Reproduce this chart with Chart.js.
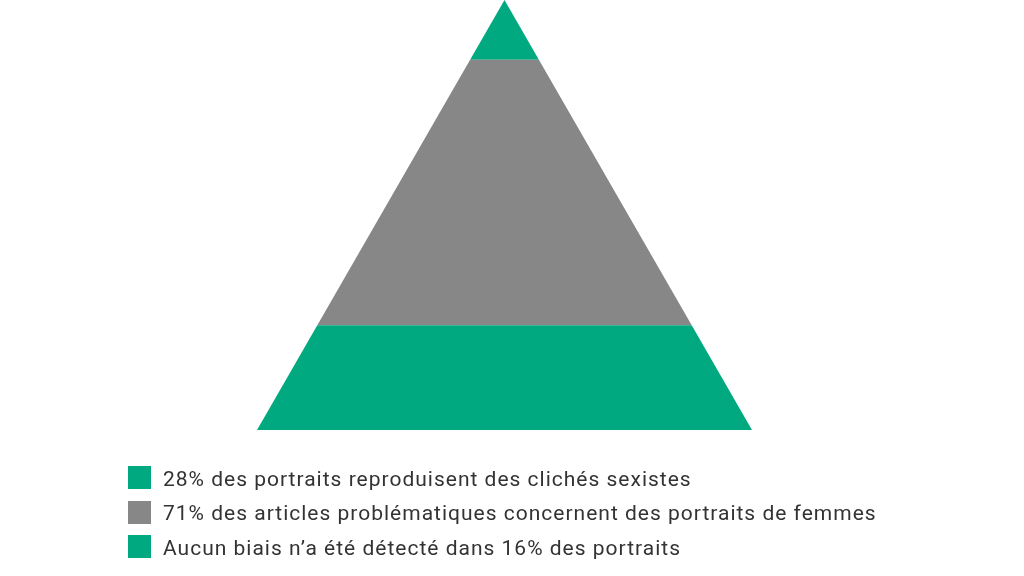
<!DOCTYPE html>
<html>
<head>
<meta charset="utf-8">
<script src="https://cdn.jsdelivr.net/npm/chart.js@4"></script>
<style>
  html, body { margin: 0; padding: 0; background: #fff; }
  #wrap { position: relative; width: 1024px; height: 576px; }
  #chart { position: absolute; left: 0; top: 0; }
  #legend { position: absolute; left: 128px; top: 466px; font-family: Roboto, sans-serif; font-size: 21px; letter-spacing: 1px; color: #333; }
  .item { display: flex; align-items: center; height: 23px; margin-bottom: 11.5px; white-space: nowrap; }
  .box { width: 23px; height: 23px; margin-right: 12px; flex: none; }
  .item span:last-child { position: relative; top: 1px; }
</style>
</head>
<body>
<div id="wrap">
  <canvas id="chart" width="1024" height="576"></canvas>
  <div id="legend"></div>
</div>
<script>
// bottom -> top of the pyramid
const labels = [
  '28% des portraits reproduisent des clichés sexistes',
  '71% des articles problématiques concernent des portraits de femmes',
  'Aucun biais n’a été détecté dans 16% des portraits'
];
const values = [28, 71, 16];
const colors = ['#00a97f', '#878787', '#00a97f'];

const total = values.reduce((a, b) => a + b, 0);

// clip the stacked bar into a triangle
const pyramidClip = {
  id: 'pyramidClip',
  beforeDatasetsDraw(chart) {
    const first = chart.getDatasetMeta(0).data[0];
    const last = chart.getDatasetMeta(values.length - 1).data[0];
    const half = first.width / 2;
    const baseY = first.base;
    const ctx = chart.ctx;
    ctx.save();
    ctx.beginPath();
    ctx.moveTo(first.x, last.y);
    ctx.lineTo(first.x + half, baseY);
    ctx.lineTo(first.x - half, baseY);
    ctx.closePath();
    ctx.clip();
  },
  afterDatasetsDraw(chart) {
    chart.ctx.restore();
  }
};

new Chart(document.getElementById('chart'), {
  type: 'bar',
  data: {
    labels: [''],
    datasets: values.map((v, i) => ({
      label: labels[i],
      data: [v],
      backgroundColor: colors[i],
      borderWidth: 0,
      barPercentage: 1,
      categoryPercentage: 495 / 1009
    }))
  },
  options: {
    responsive: false,
    animation: false,
    layout: { padding: { top: 0, bottom: 146, left: 0, right: 15 } },
    scales: {
      x: { stacked: true, display: false },
      y: { stacked: true, display: false, min: 0, max: total }
    },
    plugins: {
      legend: { display: false },
      tooltip: { enabled: false }
    }
  },
  plugins: [pyramidClip]
});

const legend = document.getElementById('legend');
labels.forEach((t, i) => {
  const row = document.createElement('div');
  row.className = 'item';
  const box = document.createElement('span');
  box.className = 'box';
  box.style.background = colors[i];
  const txt = document.createElement('span');
  txt.textContent = t;
  row.appendChild(box);
  row.appendChild(txt);
  legend.appendChild(row);
});
</script>
</body>
</html>
